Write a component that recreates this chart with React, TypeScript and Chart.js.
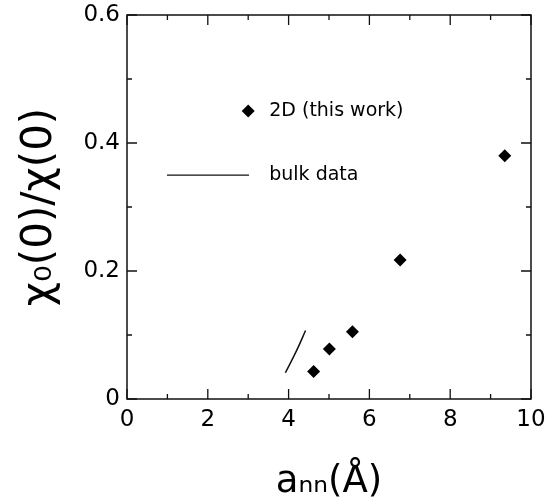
import React, { useEffect, useRef } from "react";
import { Chart, registerables } from "chart.js";

Chart.register(...registerables);

// ---- data ----
const xValues2D = [4.62, 5.01, 5.58, 6.76, 9.35];
const yValues2D = [0.043, 0.078, 0.105, 0.217, 0.38];
const bulkX = [3.92, 4.2, 4.42];
const bulkY = [0.041, 0.076, 0.107];
const xTickValues = [0, 2, 4, 6, 8, 10];
const yTickValues = [0, 0.2, 0.4, 0.6];
const legendLabels = ["2D (this work)", "bulk data"];
const xTitle = "aₙₙ(Å)";
const yTitle = "χ₀(0)/χ(0)";

const FONT = "'DejaVu Sans', sans-serif";

const frameTicksPlugin = {
  id: "frameTicks",
  afterDraw(chart: any) {
    const { ctx, chartArea } = chart;
    const xs = chart.scales.x;
    const ys = chart.scales.y;
    const { left, right, top, bottom } = chartArea;
    ctx.save();
    ctx.strokeStyle = "#111";
    ctx.lineWidth = 1.5;
    ctx.strokeRect(left, top, right - left, bottom - top);
    ctx.lineWidth = 1.3;
    ctx.beginPath();
    for (let v = 0; v <= 10; v += 1) {
      const px = xs.getPixelForValue(v);
      const len = v % 2 === 0 ? 10 : 5;
      ctx.moveTo(px, bottom);
      ctx.lineTo(px, bottom - len);
      ctx.moveTo(px, top);
      ctx.lineTo(px, top + len);
    }
    for (let i = 0; i <= 6; i++) {
      const v = i / 10;
      const py = ys.getPixelForValue(v);
      const len = i % 2 === 0 ? 10 : 5;
      ctx.moveTo(left, py);
      ctx.lineTo(left + len, py);
      ctx.moveTo(right, py);
      ctx.lineTo(right - len, py);
    }
    ctx.stroke();
    ctx.restore();
  },
};

const legendPlugin = {
  id: "inLegend",
  afterDraw(chart: any) {
    const { ctx, chartArea } = chart;
    const w = chartArea.right - chartArea.left;
    const h = chartArea.bottom - chartArea.top;
    const textX = chartArea.left + 0.352 * w;
    const y1 = chartArea.top + 0.25 * h;
    const y2 = chartArea.top + 0.417 * h;
    ctx.save();
    const dx = chartArea.left + 0.3 * w;
    const r = 6.5;
    ctx.fillStyle = "#000";
    ctx.beginPath();
    ctx.moveTo(dx, y1 - r);
    ctx.lineTo(dx + r, y1);
    ctx.lineTo(dx, y1 + r);
    ctx.lineTo(dx - r, y1);
    ctx.closePath();
    ctx.fill();
    ctx.strokeStyle = "#111";
    ctx.lineWidth = 1.3;
    ctx.beginPath();
    ctx.moveTo(chartArea.left + 0.099 * w, y2);
    ctx.lineTo(chartArea.left + 0.302 * w, y2);
    ctx.stroke();
    ctx.font = `19px ${FONT}`;
    ctx.textBaseline = "middle";
    ctx.textAlign = "left";
    ctx.fillText(legendLabels[0], textX, y1);
    ctx.fillText(legendLabels[1], textX, y2);
    ctx.restore();
  },
};

function ChartView() {
  const ref = useRef<HTMLCanvasElement | null>(null);
  useEffect(() => {
    if (!ref.current) return;
    const chart = new Chart(ref.current, {
      type: "scatter",
      data: {
        datasets: [
          {
            label: legendLabels[0],
            data: xValues2D.map((x, i) => ({ x, y: yValues2D[i] })),
            pointStyle: "rectRot",
            pointRadius: 6.5,
            backgroundColor: "#000",
            borderColor: "#000",
            borderWidth: 0,
            showLine: false,
          },
          {
            label: legendLabels[1],
            type: "line",
            data: bulkX.map((x, i) => ({ x, y: bulkY[i] })),
            pointRadius: 0,
            borderColor: "#111",
            borderWidth: 1.5,
            tension: 0.4,
            fill: false,
          } as any,
        ],
      },
      options: {
        animation: false,
        responsive: false,
        devicePixelRatio: 1,
        layout: { padding: { top: 15, right: 21, left: 0, bottom: 0 } },
        plugins: {
          legend: { display: false },
          tooltip: { enabled: false },
        },
        scales: {
          x: {
            type: "linear",
            min: 0,
            max: 10,
            grid: { display: false, drawTicks: false },
            border: { display: false },
            afterBuildTicks: (s: any) => {
              s.ticks = xTickValues.map((v) => ({ value: v }));
            },
            afterFit: (s: any) => {
              s.height = 100;
              s.paddingLeft = 0;
              s.paddingRight = 0;
            },
            ticks: {
              color: "#000",
              padding: 7,
              maxRotation: 0,
              font: { family: FONT, size: 23 },
              callback: (v: any) => String(v),
            },
            title: {
              display: true,
              text: xTitle,
              color: "#000",
              font: { family: FONT, size: 37 },
              padding: { top: 0, bottom: -6 },
            },
          },
          y: {
            type: "linear",
            min: 0,
            max: 0.6,
            grid: { display: false, drawTicks: false },
            border: { display: false },
            afterBuildTicks: (s: any) => {
              s.ticks = yTickValues.map((v) => ({ value: v }));
            },
            afterFit: (s: any) => {
              s.width = 127;
              s.paddingTop = 0;
              s.paddingBottom = 0;
            },
            ticks: {
              color: "#000",
              padding: 7,
              font: { family: FONT, size: 23 },
              callback: (v: any) => (v === 0 ? "0" : Number(v).toFixed(1)),
            },
            title: {
              display: true,
              text: yTitle,
              color: "#000",
              font: { family: FONT, size: 42 },
              padding: { top: 15, bottom: 0 },
            },
          },
        },
      },
      plugins: [frameTicksPlugin, legendPlugin],
    });
    return () => chart.destroy();
  }, []);
  return <canvas ref={ref} width={552} height={499} style={{ display: "block" }} />;
}

export default function App() {
  return (
    <div style={{ position: "fixed", left: 0, top: 0, width: 552, height: 499, background: "#fff" }}>
      <ChartView />
    </div>
  );
}
